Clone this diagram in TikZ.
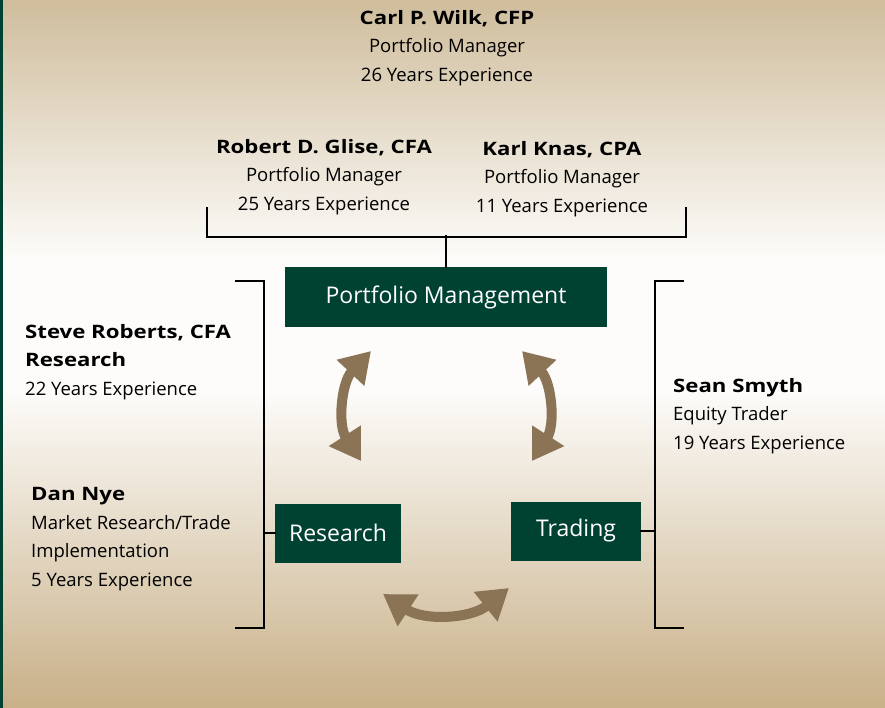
\documentclass[tikz,border=0pt]{standalone}
\usepackage{fontspec}
\setmainfont{Open Sans}[BoldFeatures={FakeStretch=1.2}]
\usetikzlibrary{arrows.meta}

\definecolor{boxgreen}{RGB}{0,66,50}
\definecolor{arrowbrown}{RGB}{139,115,85}
\definecolor{tantop}{RGB}{207,189,156}
\definecolor{tanbot}{RGB}{200,176,136}
\definecolor{paper}{RGB}{253,252,250}

\tikzset{
  teambox/.style={fill=boxgreen, text=white, minimum height=59pt, inner sep=0pt,
                  font=\fontsize{23}{27}\selectfont},
  person/.style={inner sep=0pt, font=\fontsize{18.5}{28.7}\selectfont},
  bracket/.style={line width=1.6pt, line cap=rect},
  swap/.style={arrowbrown, line width=10pt,
               {Triangle[width=36pt,length=30pt]}-{Triangle[width=36pt,length=30pt]}}
}

\begin{document}
\begin{tikzpicture}[x=1pt,y=-1pt]
    \useasboundingbox (0,0) rectangle (885,708);
    \shade[top color=tantop, bottom color=paper] (0,0) rectangle (885,260);
    \fill[paper] (0,259) rectangle (885,391);
    \shade[top color=paper, bottom color=tanbot] (0,390) rectangle (885,708);
    \fill[boxgreen] (0,0) rectangle (3,708);

    \node[person,align=center] (wilk)    at (447,48)  {\textbf{Carl P. Wilk, CFP}\\Portfolio Manager\\26 Years Experience};
    \node[person,align=center] (glise)   at (324,177) {\textbf{Robert D. Glise, CFA}\\Portfolio Manager\\25 Years Experience};
    \node[person,align=center] (knas)    at (562,179) {\textbf{Karl Knas, CPA}\\Portfolio Manager\\11 Years Experience};
    \node[person,align=left,anchor=west] (roberts) at (25,362)  {\textbf{Steve Roberts, CFA}\\\textbf{Research}\\22 Years Experience};
    \node[person,align=left,anchor=west] (nye)     at (31,539)  {\textbf{Dan Nye}\\Market Research/Trade\\Implementation\\5 Years Experience};
    \node[person,align=left,anchor=west] (smyth)   at (673,416) {\textbf{Sean Smyth}\\Equity Trader\\19 Years Experience};

    \node[teambox,minimum width=322pt] (pm)       at (446,297) {Portfolio Management};
    \node[teambox,minimum width=126pt] (research) at (338,533) {Research};
    \node[teambox,minimum width=130pt] (trading)  at (576,531) {Trading};

    % brackets
    \draw[bracket] (207,208) |- (686,237) -- (686,208);
    \draw[bracket] (pm.north) -- ++(0,-31);
    \draw[bracket] (236,281) -| (264,628) -- (236,628);
    \draw[bracket] (264,533) -- (research.west);
    \draw[bracket] (683,281) -| (655,628) -- (683,628);
    \draw[bracket] (655,531) -- (trading.east);

    % swap arrows
    \coordinate (lt) at (371,351);
    \coordinate (lb) at (361,461);
    \coordinate (rt) at (522,351);
    \coordinate (rb) at (532,461);
    \coordinate (bl) at (383,594);
    \coordinate (br) at (509,588);
    \draw[swap] (lt) to[bend right=38] (lb);
    \draw[swap] (rt) to[bend left=38] (rb);
    \draw[swap] (bl) to[bend right=36] (br);
\end{tikzpicture}
\end{document}
